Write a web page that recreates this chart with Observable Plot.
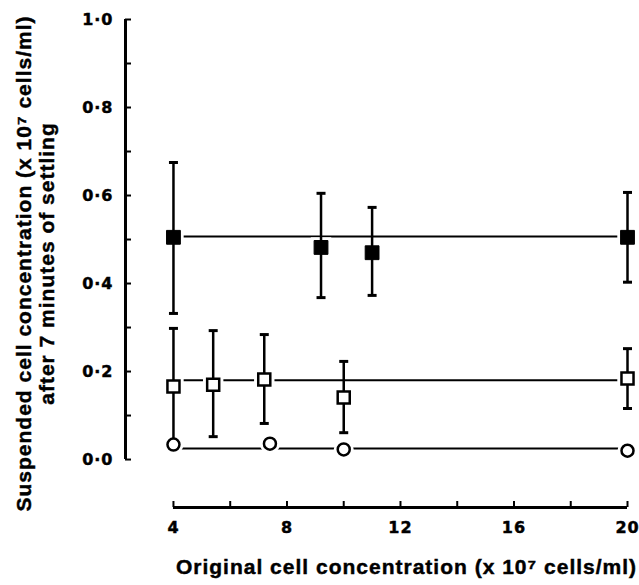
<!DOCTYPE html>
<html>
<head>
<meta charset="utf-8">
<script src="https://cdn.jsdelivr.net/npm/d3@7"></script>
<script src="https://cdn.jsdelivr.net/npm/@observablehq/plot@0.6"></script>
<style>
  html, body { margin: 0; padding: 0; background: #fff; }
  svg { display: block; }
  #chart svg text { stroke: #000; stroke-width: 0.45px; }
</style>
</head>
<body>
<div id="chart"></div>
<script>
// Filled squares
const filledX  = [4, 9.2, 11, 20];
const filledY  = [0.505, 0.482, 0.47, 0.505];
const filledLo = [0.332, 0.368, 0.373, 0.403];
const filledHi = [0.675, 0.605, 0.573, 0.607];
const filledMean = 0.507;

// Open squares
const openX  = [4, 5.4, 7.2, 10, 20];
const openY  = [0.166, 0.17, 0.182, 0.141, 0.184];
const openLo = [0.04, 0.052, 0.082, 0.061, 0.116];
const openHi = [0.298, 0.293, 0.284, 0.223, 0.252];
const openMean = 0.18;

// Open circles
const circX = [4, 7.4, 10, 20];
const circY = [0.034, 0.036, 0.023, 0.02];
const circMean = 0.025;

const xTicks = [4, 8, 12, 16, 20];
const xMinorTicks = [4, 6, 8, 10, 12, 14, 16, 18, 20];
const yTicks = [0, 0.2, 0.4, 0.6, 0.8, 1.0];
const yMinorTicks = [0, 0.1, 0.2, 0.3, 0.4, 0.5, 0.6, 0.7, 0.8, 0.9, 1.0];

const xTitle = "Original cell concentration (x 10\u2077 cells/ml)";
const yTitle = "Suspended cell concentration (x 10\u2077 cells/ml)\nafter 7 minutes of settling";

const filled = filledX.map((x, i) => ({x, y: filledY[i], lo: filledLo[i], hi: filledHi[i]}));
const open = openX.map((x, i) => ({x, y: openY[i], lo: openLo[i], hi: openHi[i]}));
const circ = circX.map((x, i) => ({x, y: circY[i]}));
const means = [filledMean, openMean, circMean];

const capSymbol = {
  draw(ctx, size) {
    const w = 4.5;
    ctx.moveTo(-w, 0);
    ctx.lineTo(w, 0);
  }
};

const fmt = d => d.toFixed(1).replace(".", "\u00b7");
const FONT = "'Liberation Sans', Arial, Helvetica, sans-serif";
const TICKFONT = "'DejaVu Sans', 'Liberation Sans', sans-serif";

const chart = Plot.plot({
  width: 639,
  height: 585,
  marginLeft: 125,
  marginRight: 12,
  marginTop: 19,
  marginBottom: 78,
  style: {fontFamily: FONT, fontWeight: "bold", fontSize: "17px", letterSpacing: "1px", background: "#fff", color: "#000"},
  x: {domain: [2.31, 20], axis: null},
  y: {domain: [-0.109, 1.0], axis: null},
  marks: [
    // Y axis line and ticks
    Plot.ruleX([2.31], {y1: 0, y2: 1, stroke: "#000", strokeWidth: 3}),
    Plot.axisY(yMinorTicks, {anchor: "left", tickSize: -6, strokeWidth: 2, stroke: "#000", tickFormat: () => "", label: null}),
    Plot.text(yTicks, {y: d => d, frameAnchor: "left", textAnchor: "end", dx: -12, text: fmt, fontFamily: TICKFONT, fontSize: 16, fontWeight: "bold", fill: "#000"}),
    // X axis line and ticks
    Plot.ruleY([-0.109], {x1: 4, x2: 20, stroke: "#000", strokeWidth: 3}),
    Plot.axisX(xMinorTicks, {anchor: "bottom", tickSize: -6, strokeWidth: 2, stroke: "#000", tickFormat: () => "", label: null}),
    Plot.text(xTicks, {x: d => d, frameAnchor: "bottom", lineAnchor: "top", dy: 14, text: d => String(d), fontFamily: TICKFONT, fontSize: 16, fontWeight: "bold", fill: "#000"}),
    // Mean lines
    Plot.ruleY(means, {x1: 4, x2: 20, stroke: "#000", strokeWidth: 2}),
    // White halos for gaps around markers
    Plot.dot(filled, {x: "x", y: "y", symbol: "square", r: 7, fill: "#fff", stroke: "#fff", strokeWidth: 8}),
    Plot.dot(open, {x: "x", y: "y", symbol: "square", r: 7, fill: "#fff", stroke: "#fff", strokeWidth: 8}),
    Plot.dot(circ, {x: "x", y: "y", r: 7, fill: "#fff", stroke: "#fff", strokeWidth: 6}),
    // Error bars
    Plot.ruleX(filled, {x: "x", y1: "lo", y2: "hi", stroke: "#000", strokeWidth: 2.5}),
    Plot.dot(filled, {x: "x", y: "lo", symbol: capSymbol, stroke: "#000", strokeWidth: 3}),
    Plot.dot(filled, {x: "x", y: "hi", symbol: capSymbol, stroke: "#000", strokeWidth: 3}),
    Plot.ruleX(open, {x: "x", y1: "lo", y2: "hi", stroke: "#000", strokeWidth: 2.5}),
    Plot.dot(open, {x: "x", y: "lo", symbol: capSymbol, stroke: "#000", strokeWidth: 3}),
    Plot.dot(open, {x: "x", y: "hi", symbol: capSymbol, stroke: "#000", strokeWidth: 3}),
    // Markers
    Plot.dot(filled, {x: "x", y: "y", symbol: "square", r: 7.8, fill: "#000", stroke: "#000", strokeWidth: 1}),
    Plot.dot(open, {x: "x", y: "y", symbol: "square", r: 6.8, fill: "#fff", stroke: "#000", strokeWidth: 2.5}),
    Plot.dot(circ, {x: "x", y: "y", r: 6, fill: "#fff", stroke: "#000", strokeWidth: 2.5}),
    // Titles
    Plot.text([xTitle], {frameAnchor: "bottom", textAnchor: "middle", dx: 30, dy: 66, text: d => d, fontSize: 21, fontWeight: "bold", fill: "#000"}),
    Plot.text([yTitle], {frameAnchor: "left", textAnchor: "middle", lineAnchor: "middle", dx: -90, dy: 0, rotate: -90, text: d => d, fontSize: 21, lineHeight: 1.1, fontWeight: "bold", fill: "#000"})
  ]
});
document.getElementById("chart").appendChild(chart);
</script>
</body>
</html>
